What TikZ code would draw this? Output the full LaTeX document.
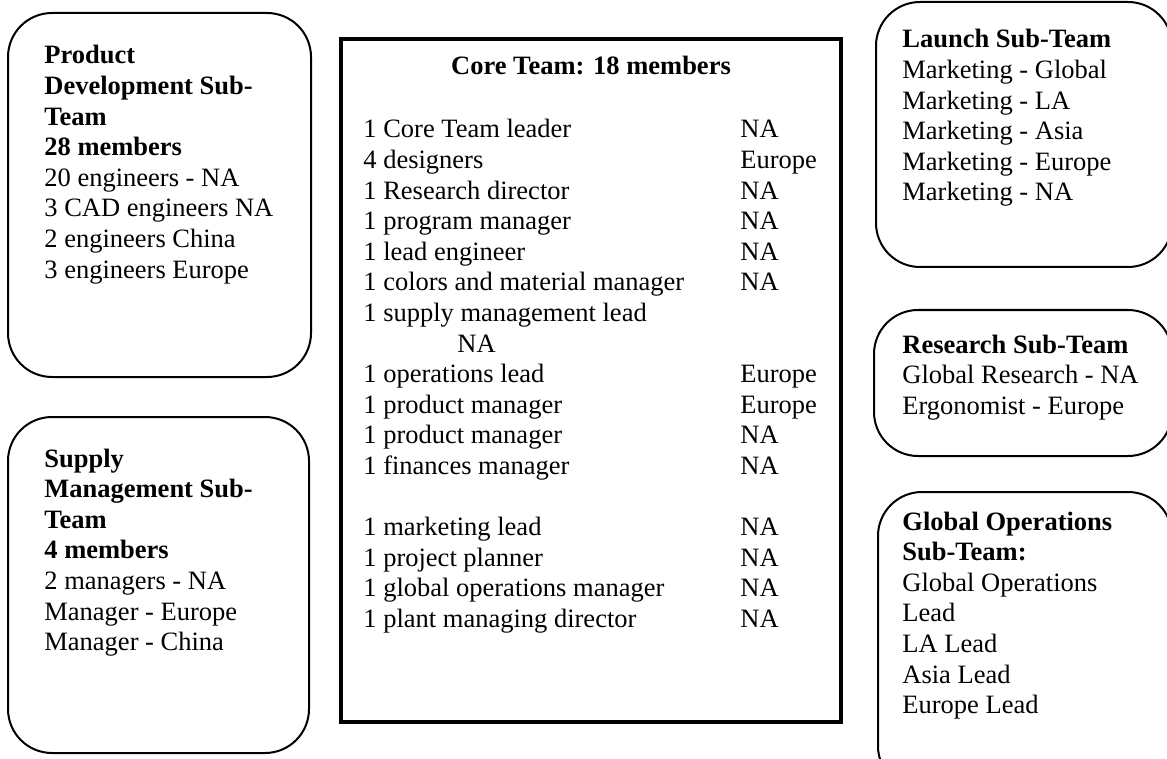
\documentclass[tikz,border=0pt]{standalone}
\usepackage{fontspec}
\setmainfont{Liberation Serif}
\newcommand\tfont{\fontsize{13.25}{15.3}\selectfont}
\begin{document}
\begin{tikzpicture}[x=0.5pt,y=-0.5pt,
  subbox/.style={draw,line width=1pt,rounded corners=22pt},
  corebox/.style={draw,line width=2pt},
  txt/.style={anchor=base west,inner sep=0pt,font=\tfont}]
\useasboundingbox (0,0) rectangle (1167,759);
\clip (0,0) rectangle (1167,759);
% boxes
\draw[subbox] (8,13) rectangle (311,377);
\draw[subbox] (8,417) rectangle (309,753);
\draw[corebox] (341,39) rectangle (841,722);
\draw[subbox] (876,2) rectangle (1172,267);
\draw[subbox] (874,310) rectangle (1172,456);
\draw[subbox] (878,492) rectangle (1172,790);
% texts
\node[txt] (pd) at (44,64) {\renewcommand\arraystretch{1}\begin{tabular}[t]{@{}l@{}}
\textbf{Product}\\ \textbf{Development Sub-}\\ \textbf{Team}\\ \textbf{28 members}\\
20 engineers - NA\\ 3 CAD engineers NA\\ 2 engineers China\\ 3 engineers Europe\end{tabular}};
\node[txt] (sm) at (44,467) {\renewcommand\arraystretch{1}\begin{tabular}[t]{@{}l@{}}
\textbf{Supply}\\ \textbf{Management Sub-}\\ \textbf{Team}\\ \textbf{4 members}\\
2 managers - NA\\ Manager - Europe\\ Manager - China\end{tabular}};
\node[anchor=base,inner sep=0pt,font=\tfont\bfseries] (ct) at (591,75) {Core Team: 18 members};
\node[txt] (cl) at (363,138) {\renewcommand\arraystretch{1}\begin{tabular}[t]{@{}p{188.5pt}@{}l@{}}
1 Core Team leader & NA\\
4 designers & Europe\\
1 Research director & NA\\
1 program manager & NA\\
1 lead engineer & NA\\
1 colors and material manager & NA\\
1 supply management lead & \\
\hspace*{47pt}NA & \\
1 operations lead & Europe\\
1 product manager & Europe\\
1 product manager & NA\\
1 finances manager & NA\\
 & \\
1 marketing lead & NA\\
1 project planner & NA\\
1 global operations manager & NA\\
1 plant managing director & NA\end{tabular}};
\node[txt] (ls) at (902,48) {\renewcommand\arraystretch{1}\begin{tabular}[t]{@{}l@{}}
\textbf{Launch Sub-Team}\\ Marketing - Global\\ Marketing - LA\\ Marketing - Asia\\
Marketing - Europe\\ Marketing - NA\end{tabular}};
\node[txt] (rs) at (902,353) {\renewcommand\arraystretch{1}\begin{tabular}[t]{@{}l@{}}
\textbf{Research Sub-Team}\\ Global Research - NA\\ Ergonomist - Europe\end{tabular}};
\node[txt] (go) at (902,530) {\renewcommand\arraystretch{1}\begin{tabular}[t]{@{}l@{}}
\textbf{Global Operations}\\ \textbf{Sub-Team:}\\ Global Operations\\ Lead\\
LA Lead\\ Asia Lead\\ Europe Lead\end{tabular}};
\end{tikzpicture}
\end{document}
